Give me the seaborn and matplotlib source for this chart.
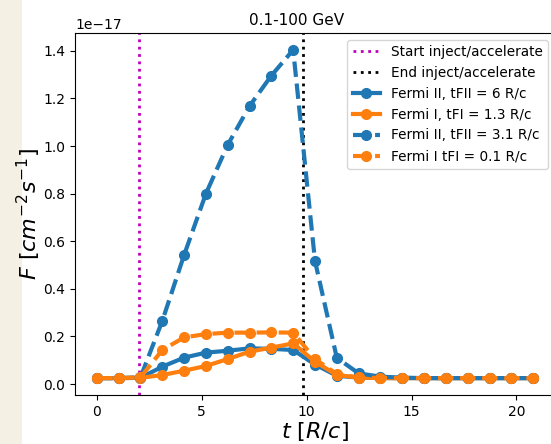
import numpy as np
import pandas as pd
import matplotlib
matplotlib.use("Agg")
import matplotlib.pyplot as plt
from matplotlib.patches import Rectangle
import seaborn as sns

# ---- data (flux in units of 1e-17 cm^-2 s^-1) ----
t = [0.0, 1.04, 2.08, 3.12, 4.16, 5.2, 6.24, 7.28, 8.32, 9.36, 10.4,
     11.44, 12.48, 13.52, 14.56, 15.6, 16.64, 17.68, 18.72, 19.76, 20.8]
fermi2_6 = [0.025, 0.025, 0.026, 0.073, 0.111, 0.132, 0.140, 0.150, 0.148, 0.143, 0.082,
            0.035, 0.027, 0.025, 0.025, 0.025, 0.025, 0.025, 0.025, 0.025, 0.025]
fermi1_13 = [0.025, 0.025, 0.026, 0.038, 0.056, 0.076, 0.105, 0.136, 0.153, 0.171, 0.094,
             0.038, 0.027, 0.025, 0.025, 0.025, 0.025, 0.025, 0.025, 0.025, 0.025]
fermi2_31 = [0.025, 0.025, 0.028, 0.265, 0.542, 0.800, 1.005, 1.168, 1.296, 1.404, 0.517,
             0.110, 0.045, 0.031, 0.027, 0.025, 0.025, 0.025, 0.025, 0.025, 0.025]
fermi1_01 = [0.025, 0.025, 0.028, 0.143, 0.196, 0.210, 0.216, 0.216, 0.217, 0.216, 0.105,
             0.042, 0.028, 0.025, 0.025, 0.025, 0.025, 0.025, 0.025, 0.025, 0.025]
t_start = 2.0
t_end = 9.83
labels = ["Fermi II, tFII = 6 R/c", "Fermi I, tFI = 1.3 R/c",
          "Fermi II, tFII = 3.1 R/c", "Fermi I tFI = 0.1 R/c"]
scale = 1e-17

series = [fermi2_6, fermi1_13, fermi2_31, fermi1_01]
colors = ["#1f77b4", "#ff7f0e", "#1f77b4", "#ff7f0e"]
styles = ["-", "-", "--", "--"]

W, H = 551, 444
fig = plt.figure(figsize=(W / 100, H / 100), dpi=100)
# beige page strip at left edge
fig.patches.append(Rectangle((0, 0), 22 / W, 1, transform=fig.transFigure,
                             facecolor="#f4f0e4", edgecolor="none", zorder=-10))
ax = fig.add_axes([75 / W, (H - 395) / H, (555 - 75) / W, (395 - 33) / H])

ax.axvline(t_start, color="m", linestyle=":", linewidth=2, label="Start inject/accelerate")
ax.axvline(t_end, color="k", linestyle=":", linewidth=2, label="End inject/accelerate")

for vals, c, ls, lab in zip(series, colors, styles, labels):
    df = pd.DataFrame({"t": t, "F": np.array(vals) * scale})
    sns.lineplot(data=df, x="t", y="F", ax=ax, color=c, linestyle=ls, linewidth=3,
                 marker="o", markersize=7, markeredgecolor=c, markeredgewidth=1,
                 label=lab)

ax.set_xlim(-1.04, 21.84)
ax.set_ylim(-0.046e-17, 1.475e-17)
ax.set_xticks([0, 5, 10, 15, 20])
ax.set_yticks(np.array([0.0, 0.2, 0.4, 0.6, 0.8, 1.0, 1.2, 1.4]) * scale)
ax.tick_params(labelsize=10)
ax.set_xlabel(r"$t\ [R/c]$", fontsize=16, labelpad=1)
ax.set_ylabel(r"$F\ [cm^{-2}s^{-1}]$", fontsize=16, labelpad=0)
ax.set_title("0.1-100 GeV", fontsize=11, x=(297 - 75) / (555 - 75))
ax.legend(loc="upper right", fontsize=9.8)

fig.savefig("out.png", dpi=100)
